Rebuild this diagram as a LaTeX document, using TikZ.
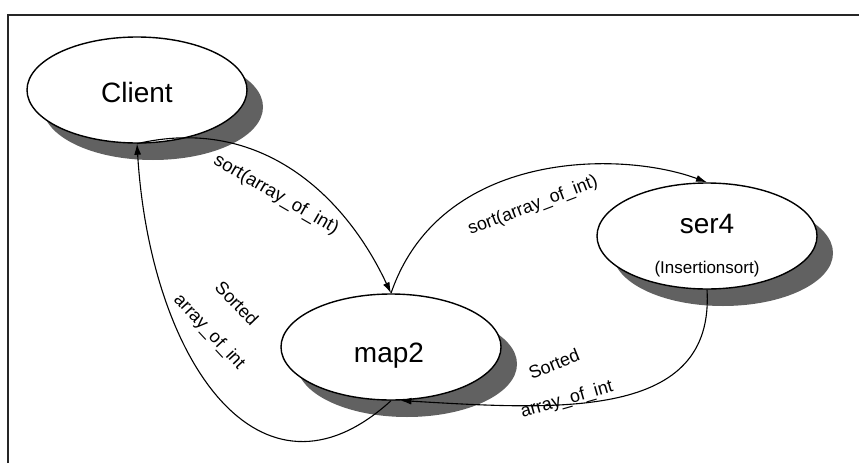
\documentclass[tikz,border=0pt]{standalone}
\usepackage{fontspec}
\setmainfont{Liberation Sans}
\usetikzlibrary{arrows.meta,shadows,shapes.geometric}
\begin{document}
\begin{tikzpicture}[x=1pt,y=-1pt,
  state/.style={ellipse, draw, line width=1.4pt, fill=white, inner sep=0pt,
    minimum width=220pt, minimum height=106pt,
    drop shadow={shadow xshift=16pt, shadow yshift=-17pt, fill=black!62, opacity=1}},
  ntext/.style={font=\fontsize{28}{30}\selectfont, anchor=base, inner sep=0pt},
  stext/.style={font=\fontsize{17}{19}\selectfont, anchor=base, inner sep=0pt},
  elabel/.style={font=\fontsize{18}{20}\selectfont, inner sep=0pt},
  conn/.style={line width=1.1pt, -{Latex[length=11pt,width=7pt]}}]
\useasboundingbox (0,0) rectangle (859,463);
\fill[white] (0,0) rectangle (859,463);
\draw[line width=2.8pt, black!85] (8,463) -- (8,15) -- (859,15);

\node[state] (client) at (137,90) {};
\node[state] (map2) at (391,347) {};
\node[state] (ser4) at (707,236) {};

\node[ntext] (clientt) at (137,102) {Client};
\node[ntext] (map2t) at (389,362) {map2};
\node[ntext] (ser4t) at (707,233) {ser4};
\node[stext] (ser4s) at (707,273) {(Insertionsort)};

\draw[conn] (client.south) .. controls (260,115) and (345,195) .. (map2.north);
\draw[conn] (map2.north) .. controls (440,150) and (620,150) .. (ser4.north);
\draw[conn] (ser4.south) .. controls (715,420) and (560,410) .. (map2.280);
\draw[conn] (map2.south) .. controls (260,520) and (150,360) .. (client.south);

\node[elabel, font=\fontsize{18.5}{20}\selectfont, rotate=-30] (l1) at (276,195) {sort(array\_of\_int)};
\node[elabel, rotate=21] (l2) at (533,206) {sort(array\_of\_int)};
\node[elabel, rotate=22] (l3a) at (554,364) {Sorted};
\node[elabel, rotate=16] (l3b) at (567,400) {array\_of\_int};
\node[elabel, rotate=-46] (l4a) at (237,303) {Sorted};
\node[elabel, rotate=-47] (l4b) at (209,332) {array\_of\_int};
\end{tikzpicture}
\end{document}
